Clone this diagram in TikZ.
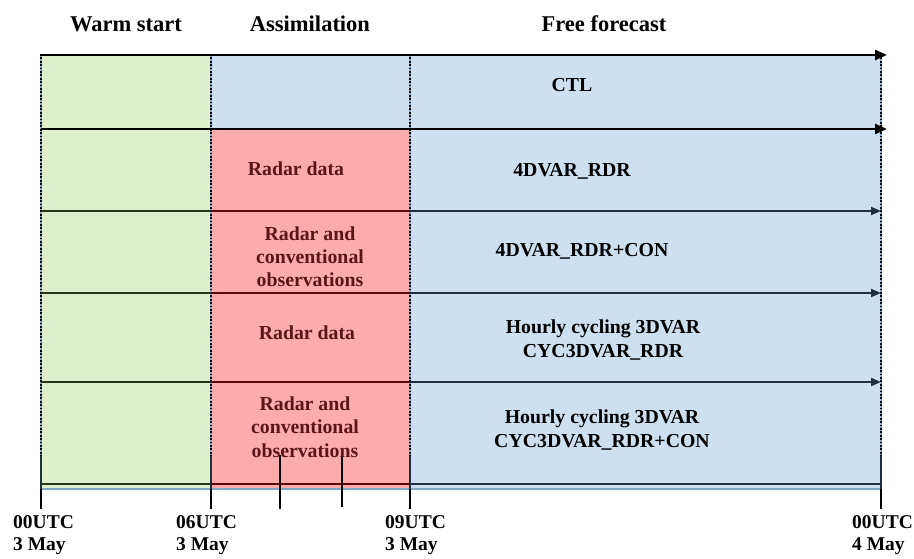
\documentclass[tikz,border=0pt]{standalone}
\usepackage{fontspec}
\setmainfont{Liberation Serif}
\usetikzlibrary{arrows.meta}
\definecolor{greenfill}{HTML}{DEEFCB}
\definecolor{bluefill}{HTML}{CDE0F1}
\definecolor{redfill}{HTML}{FDACAC}
\definecolor{navy}{HTML}{1E2F40}
\definecolor{dkred}{HTML}{5A0808}
\definecolor{dkgreen}{HTML}{26361A}
\definecolor{rtext}{HTML}{5A1616}
\definecolor{edgeblue}{HTML}{86A8C8}
\begin{document}
\begin{tikzpicture}[x=1pt,y=-1pt,
  hdr/.style={font=\fontsize{22.5}{26}\selectfont\bfseries, anchor=base, inner sep=0pt},
  lbl/.style={font=\fontsize{19.8}{23.5}\selectfont\bfseries, anchor=base, align=center, inner sep=0pt},
  rlbl/.style={lbl, text=rtext},
  tlbl/.style={font=\fontsize{19.5}{22}\selectfont\bfseries, anchor=base west, align=left, inner sep=0pt},
  mainarrow/.style={line width=2.6pt, black, -{Triangle[length=12pt,width=10pt]}},
  rowarrow/.style={line width=2pt, navy, -{Triangle[length=10pt,width=8pt]}},
  rowline/.style={line width=2pt},
  edge/.style={edgeblue, line width=1.6pt},
  dotline/.style={line width=1.8pt, dash pattern=on 1.8pt off 1.6pt, black},
  tickline/.style={line width=2.2pt, black}]
\useasboundingbox (0,0) rectangle (914,559);
% named coordinates
\foreach \n/\x in {A/41,B/211,C/410,D/881}{
  \coordinate (top\n) at (\x,54);
  \coordinate (dot\n) at (\x,456);
  \coordinate (bot\n) at (\x,489);
  \coordinate (tick\n) at (\x,509);
}
\foreach \i/\y in {1/55,2/129,3/211,4/293,5/382,6/484}{
  \coordinate (L\i) at (41,\y);
  \coordinate (M\i) at (211,\y);
  \coordinate (N\i) at (410,\y);
  \coordinate (R\i) at (881,\y);
  \coordinate (E\i) at (887,\y);
}
\coordinate (T1a) at (280,455);
\coordinate (T1b) at (280,509);
\coordinate (T2a) at (342,453);
\coordinate (T2b) at (342,507);
% fills
\fill[greenfill] (topA) rectangle (botB);
\fill[bluefill] (topB) rectangle (R2);
\fill[redfill] (M2) rectangle (botC);
\fill[bluefill] (N2) rectangle (botD);
% edges
\draw[edge] (topA) -- (botA);
\draw[edge] (topB) -- (botB);
\draw[edge] (topC) -- (botC);
\draw[edge] (topD) -- (botD);
\draw[edge] (botA) -- (botD);
% dotted verticals and ticks
\foreach \n in {A,B,C,D}{
  \draw[dotline] (top\n) -- (dot\n);
  \draw[tickline, navy] (dot\n) -- (bot\n);
  \draw[tickline] (bot\n) -- (tick\n);
}
\draw[tickline] (T1a) -- (T1b);
\draw[tickline] (T2a) -- (T2b);
% horizontal arrows
\draw[mainarrow] (L1) -- (E1);
\draw[mainarrow] (L2) -- (E2);
\foreach \i in {3,4,5}{
  \draw[rowarrow] (L\i) -- (R\i);
  \draw[rowline, dkgreen] (L\i) -- (M\i);
  \draw[rowline, dkred] (M\i) -- (N\i);
}
\draw[rowline, navy] (L6) -- (R6);
\draw[rowline, dkgreen] (L6) -- (M6);
\draw[rowline, dkred] (M6) -- (N6);
% headers
\node[hdr] (h1) at (126,32) {Warm start};
\node[hdr] (h2) at (310,32) {Assimilation};
\node[hdr] (h3) at (604,32) {Free forecast};
% row labels (base anchor = baseline of last line)
\node[lbl] (ctl) at (572,92) {CTL};
\node[rlbl] (r2) at (296,176) {Radar data};
\node[lbl] (f2) at (572,177) {4DVAR\_RDR};
\node[rlbl] (r3) at (310,287) {Radar and\\conventional\\observations};
\node[lbl] (f3) at (582,257) {4DVAR\_RDR+CON};
\node[rlbl] (r4) at (307,339) {Radar data};
\node[lbl] (f4) at (603,357) {Hourly cycling 3DVAR\\CYC3DVAR\_RDR};
\node[rlbl] (r5) at (305,457) {Radar and\\conventional\\observations};
\node[lbl] (f5) at (602,447) {Hourly cycling 3DVAR\\CYC3DVAR\_RDR+CON};
% time labels
\node[tlbl] (t1) at (13,550) {00UTC\\3 May};
\node[tlbl] (t2) at (176,550) {06UTC\\3 May};
\node[tlbl] (t3) at (385,550) {09UTC\\3 May};
\node[tlbl] (t4) at (852,550) {00UTC\\4 May};
\end{tikzpicture}
\end{document}
